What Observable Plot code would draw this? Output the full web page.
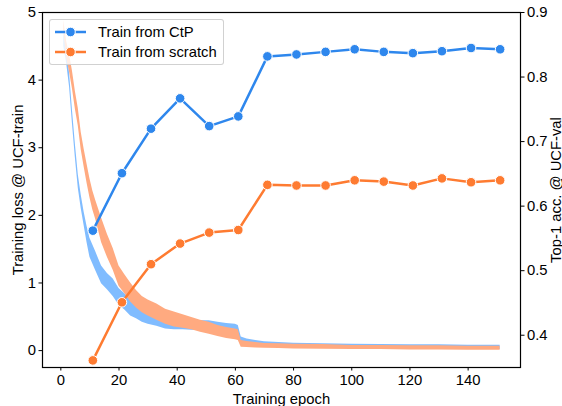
<!DOCTYPE html>
<html>
<head>
<meta charset="utf-8">
<script src="https://cdn.jsdelivr.net/npm/d3@7"></script>
<script src="https://cdn.jsdelivr.net/npm/@observablehq/plot@0.6"></script>
<style>
  html, body { margin: 0; padding: 0; background: white; }
  #wrap { position: relative; width: 562px; height: 406px; font-family: "Liberation Sans", Arial, sans-serif; }
  #legend { position: absolute; left: 49px; top: 19px; width: 175px; height: 46px;
    border: 1px solid rgba(204,204,204,0.9); border-radius: 3px; background: rgba(255,255,255,0.8);
    box-sizing: border-box; font-size: 14.8px; color: black; }
  .row { position: absolute; left: 0; height: 20px; display: flex; align-items: center; }
  .row svg { margin-left: 5px; }
  .row span { margin-left: 12px; white-space: nowrap; }
</style>
</head>
<body>
<div id="wrap"><div id="legend"></div></div>
<script>
// ---- data ----
const accEpochs = [11, 21, 31, 41, 51, 61, 71, 81, 91, 101, 111, 121, 131, 141, 151];
const ctpAcc = [0.562, 0.651, 0.720, 0.767, 0.724, 0.739, 0.832, 0.835, 0.839, 0.843, 0.839, 0.837, 0.840, 0.845, 0.843];
const scratchAcc = [0.361, 0.451, 0.510, 0.542, 0.559, 0.563, 0.633, 0.632, 0.632, 0.640, 0.638, 0.632, 0.643, 0.637, 0.640];

const lossEpochs = [1,2,3,4,5,6,7,8,9,10,11,12,14,16,18,20,22,24,26,28,30,33,36,39,42,45,48,51,54,57,60,61,62,64,67,70,75,80,90,100,110,120,130,140,151];
const ctpLossLo = [4.5,4.25,3.9,3.35,2.85,2.4,2.1,1.85,1.6,1.38,1.28,1.18,0.99,0.9,0.8,0.67,0.6,0.51,0.47,0.42,0.39,0.36,0.32,0.31,0.31,0.30,0.30,0.30,0.29,0.27,0.26,0.22,0.10,0.08,0.06,0.05,0.045,0.04,0.035,0.03,0.025,0.02,0.02,0.015,0.015];
const ctpLossHi = [4.7,4.45,4.1,3.55,3.05,2.6,2.3,2.05,1.84,1.66,1.56,1.46,1.25,1.14,1.06,0.92,0.84,0.75,0.69,0.64,0.59,0.54,0.50,0.47,0.45,0.44,0.44,0.44,0.42,0.40,0.39,0.37,0.20,0.17,0.15,0.13,0.12,0.11,0.10,0.095,0.09,0.085,0.085,0.08,0.08];
const scratchLossLo = [4.72,4.33,4.12,3.87,3.57,3.32,2.97,2.72,2.48,2.26,2.08,1.94,1.6,1.38,1.19,0.95,0.84,0.72,0.63,0.56,0.51,0.45,0.39,0.35,0.33,0.31,0.27,0.24,0.21,0.18,0.16,0.15,0.05,0.045,0.04,0.035,0.03,0.025,0.02,0.015,0.015,0.01,0.01,0.005,0.005];
const scratchLossHi = [4.88,4.57,4.38,4.13,3.83,3.58,3.23,2.98,2.76,2.54,2.36,2.22,1.96,1.72,1.51,1.25,1.12,1.0,0.89,0.80,0.75,0.69,0.61,0.57,0.53,0.49,0.45,0.42,0.37,0.34,0.32,0.31,0.15,0.135,0.12,0.105,0.10,0.095,0.09,0.075,0.075,0.07,0.07,0.065,0.065];

const xTicks = [0, 20, 40, 60, 80, 100, 120, 140];
const lossTicks = [0, 1, 2, 3, 4, 5];
const accTicks = [0.4, 0.5, 0.6, 0.7, 0.8, 0.9];
const seriesNames = ["Train from CtP", "Train from scratch"];

// ---- styling ----
const blue = "#2e87ed", orange = "#fe7b31";
const lightBlue = "#80bcff", lightOrange = "#ffaa80";
const lossDomain = [-0.25, 5];
const accDomain = [0.35, 0.9];
const toLoss = a => lossDomain[0] + (a - accDomain[0]) / (accDomain[1] - accDomain[0]) * (lossDomain[1] - lossDomain[0]);
const fromLoss = l => accDomain[0] + (l - lossDomain[0]) / (lossDomain[1] - lossDomain[0]) * (accDomain[1] - accDomain[0]);

const ctpBand = lossEpochs.map((e, i) => ({epoch: e, lo: ctpLossLo[i], hi: ctpLossHi[i]}));
const scratchBand = lossEpochs.map((e, i) => ({epoch: e, lo: scratchLossLo[i], hi: scratchLossHi[i]}));
const ctpAccData = accEpochs.map((e, i) => ({epoch: e, acc: ctpAcc[i]}));
const scratchAccData = accEpochs.map((e, i) => ({epoch: e, acc: scratchAcc[i]}));

const chart = Plot.plot({
  width: 562, height: 406,
  marginLeft: 42, marginRight: 42, marginTop: 12, marginBottom: 39,
  x: {domain: [-6.3, 158]},
  y: {domain: lossDomain},
  style: {fontFamily: "'Liberation Sans', Arial, sans-serif", fontSize: "14.8px", color: "black", background: "white"},
  marks: [
    Plot.areaY(ctpBand, {x: "epoch", y1: "lo", y2: "hi", fill: lightBlue}),
    Plot.areaY(scratchBand, {x: "epoch", y1: "lo", y2: "hi", fill: lightOrange}),
    Plot.lineY(ctpAccData, {x: "epoch", y: d => toLoss(d.acc), stroke: blue, strokeWidth: 2.5}),
    Plot.dot(ctpAccData, {x: "epoch", y: d => toLoss(d.acc), r: 4.8, fill: blue, stroke: "white", strokeWidth: 1}),
    Plot.lineY(scratchAccData, {x: "epoch", y: d => toLoss(d.acc), stroke: orange, strokeWidth: 2.5}),
    Plot.dot(scratchAccData, {x: "epoch", y: d => toLoss(d.acc), r: 4.8, fill: orange, stroke: "white", strokeWidth: 1}),
    Plot.frame({stroke: "black", strokeWidth: 1.2}),
    Plot.axisX({ticks: xTicks, tickSize: 3.5, tickPadding: 3, tickFormat: d => String(d),
      label: "Training epoch", labelAnchor: "center", labelArrow: "none", labelOffset: 36}),
    Plot.axisY({anchor: "left", ticks: lossTicks, tickSize: 3.5, tickPadding: 3, tickFormat: d => String(d),
      label: "Training loss @ UCF-train", labelAnchor: "center", labelArrow: "none", labelOffset: 30}),
    Plot.axisY({anchor: "right", ticks: accTicks.map(toLoss), tickSize: 3.5, tickPadding: 3,
      tickFormat: d => fromLoss(d).toFixed(1),
      label: "Top-1 acc. @ UCF-val", labelAnchor: "center", labelArrow: "none", labelOffset: 40})
  ]
});
document.getElementById("wrap").insertBefore(chart, document.getElementById("legend"));

// ---- legend (inside the axes, top-left) ----
const legend = document.getElementById("legend");
[[seriesNames[0], blue], [seriesNames[1], orange]].forEach(([name, color], i) => {
  const row = document.createElement("div");
  row.className = "row";
  row.style.top = (i === 0 ? 2 : 22) + "px";
  row.innerHTML = `<svg width="31" height="12"><line x1="0" x2="31" y1="6" y2="6" stroke="${color}" stroke-width="2.5"/><circle cx="15.5" cy="6" r="4.8" fill="${color}" stroke="white" stroke-width="1"/></svg><span>${name}</span>`;
  legend.appendChild(row);
});
</script>
</body>
</html>
